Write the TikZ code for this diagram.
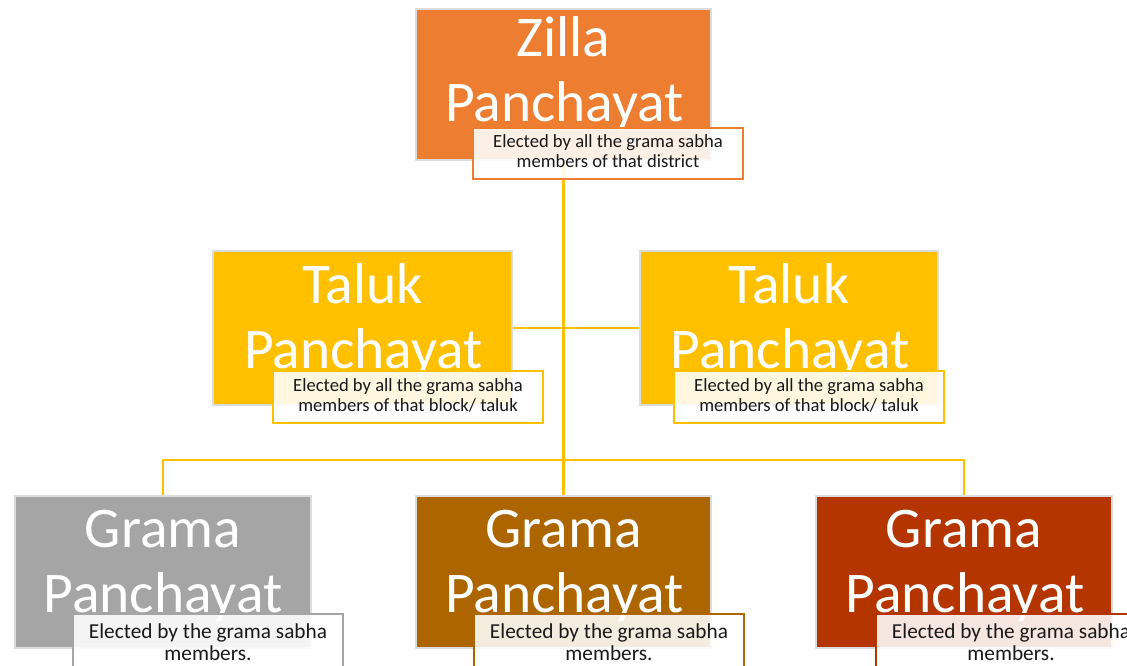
\documentclass[tikz,border=0pt]{standalone}
\usepackage{fontspec}
\setmainfont{Carlito}
\definecolor{zorange}{HTML}{ED7D31}
\definecolor{gold}{HTML}{FFC000}
\definecolor{ggray}{HTML}{A5A5A5}
\definecolor{gbrown}{HTML}{AD6500}
\definecolor{gred}{HTML}{B43500}
\definecolor{edgegray}{HTML}{DCDCDC}
\pgfdeclarelayer{bottom}
\pgfdeclarelayer{background}
\pgfsetlayers{bottom,background,main}
\tikzset{
  pbox/.style={rectangle, draw=edgegray, line width=1.2pt, inner sep=0pt, outer sep=0pt, anchor=north west},
  capbox/.style={rectangle, fill=white, fill opacity=0.88, line width=2pt, inner sep=0pt, outer sep=0pt, anchor=north west},
  ttl/.style={anchor=base, inner sep=0pt, text=white, font=\fontsize{57.5}{60}\selectfont},
  capline/.style={anchor=base, inner sep=0pt, text=black!90, font=\fontsize{18.6}{20}\selectfont},
  capbig/.style={anchor=base, inner sep=0pt, text=black!90, font=\fontsize{21.3}{23}\selectfont},
  link/.style={draw=gold, line width=2.5pt}
}
\begin{document}
\begin{tikzpicture}[x=1pt,y=-1pt]
\useasboundingbox (0,0) rectangle (1127,666);
\clip (0,0) rectangle (1127,666);
\begin{pgfonlayer}{bottom}
\fill[white] (0,0) rectangle (1127,666);
\end{pgfonlayer}

% main boxes
\node[pbox, fill=zorange, minimum width=295, minimum height=151] (zp) at (416,9) {};
\node[pbox, fill=gold, minimum width=299, minimum height=154] (tl) at (213,251) {};
\node[pbox, fill=gold, minimum width=298, minimum height=154] (tr) at (640,251) {};
\node[pbox, fill=ggray, minimum width=296, minimum height=152] (gl) at (15,496) {};
\node[pbox, fill=gbrown, minimum width=295, minimum height=152] (gm) at (416,496) {};
\node[pbox, fill=gred, minimum width=296, minimum height=152] (gr) at (816,496) {};

% connectors
\coordinate (bus) at (564,460);
\begin{pgfonlayer}{background}
\draw[link] (zp.south) -- (zp.south |- bus);
\draw[link] (tl.east) -- (tr.west);
\draw[link] (gl.north) -- (gl.north |- bus) -- (gr.north |- bus) -- (gr.north);
\draw[link] (gm.north) -- (gm.north |- bus);
\end{pgfonlayer}

% titles
\node[ttl] (zp1) at (563.5,57) {Zilla};
\node[ttl] (zp2) at (564.5,122) {Panchayat};
\node[ttl] (tl1) at (362.5,303) {Taluk};
\node[ttl] (tl2) at (363.5,368) {Panchayat};
\node[ttl] (tr1) at (789,303) {Taluk};
\node[ttl] (tr2) at (790,368) {Panchayat};
\node[ttl] (gl1) at (163,547) {Grama};
\node[ttl] (gl2) at (163,612) {Panchayat};
\node[ttl] (gm1) at (563.5,547) {Grama};
\node[ttl] (gm2) at (564.5,612) {Panchayat};
\node[ttl] (gr1) at (964,547) {Grama};
\node[ttl] (gr2) at (965,612) {Panchayat};

% caption boxes
\node[capbox, draw=zorange, minimum width=270, minimum height=51] (zc) at (473,128) {};
\node[capbox, draw=gold, minimum width=270, minimum height=52] (tlc) at (273,371) {};
\node[capbox, draw=gold, minimum width=270, minimum height=52] (trc) at (674,371) {};
\node[capbox, draw=ggray, minimum width=270, minimum height=70] (glc) at (73,614) {};
\node[capbox, draw=gbrown, minimum width=270, minimum height=70] (gmc) at (474,614) {};
\node[capbox, draw=gred, minimum width=270, minimum height=70] (grc) at (876,614) {};

% caption texts
\node[capline] (zc1) at (608,148) {Elected by all the grama sabha};
\node[capline] (zc2) at (608,167.5) {members of that district};
\node[capline] (tlc1) at (408,391.5) {Elected by all the grama sabha};
\node[capline] (tlc2) at (408,411.5) {members of that block/ taluk};
\node[capline] (trc1) at (809,391.5) {Elected by all the grama sabha};
\node[capline] (trc2) at (809,411.5) {members of that block/ taluk};
\node[capbig] (glc1) at (208,638) {Elected by the grama sabha};
\node[capbig] (glc2) at (208,660) {members.};
\node[capbig] (gmc1) at (609,638) {Elected by the grama sabha};
\node[capbig] (gmc2) at (609,660) {members.};
\node[capbig] (grc1) at (1011,638) {Elected by the grama sabha};
\node[capbig] (grc2) at (1011,660) {members.};
\end{tikzpicture}
\end{document}
